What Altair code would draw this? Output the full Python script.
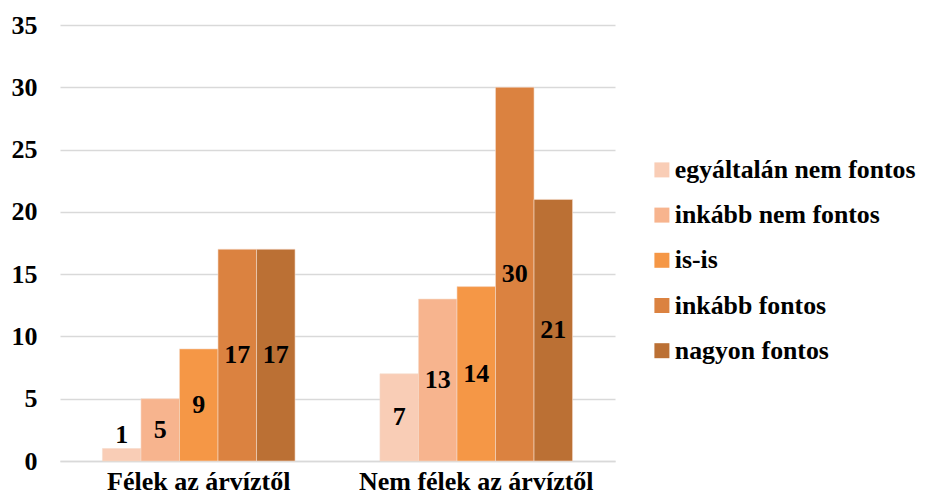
import altair as alt
import pandas as pd

categories = ["Félek az árvíztől", "Nem félek az árvíztől"]
series = ["egyáltalán nem fontos", "inkább nem fontos", "is-is", "inkább fontos", "nagyon fontos"]
values_felek = [1, 5, 9, 17, 17]
values_nem = [7, 13, 14, 30, 21]
colors = ["#F9CDB6", "#F7B48E", "#F59746", "#DB8240", "#BB7034"]
y_ticks = [0, 5, 10, 15, 20, 25, 30, 35]

rows = []
for cat, vals in zip(categories, [values_felek, values_nem]):
    for s, v in zip(series, vals):
        rows.append({"cat": cat, "series": s, "value": v})
df = pd.DataFrame(rows)

FONT = "Liberation Serif"

base = alt.Chart(df).transform_calculate(
    labelpos="datum.value < 2 ? datum.value + 1.1 : datum.value / 2"
).encode(
    x=alt.X("cat:N", sort=categories, title=None,
            scale=alt.Scale(paddingInner=0.306, paddingOuter=0.153),
            axis=alt.Axis(labelAngle=0, ticks=False, domain=True, domainColor="#D9D9D9",
                          domainWidth=1.5, labelFont=FONT, labelFontWeight="bold",
                          labelFontSize=26, labelPadding=28, labelBaseline="alphabetic",
                          labelColor="black", labelLimit=400)),
    xOffset=alt.XOffset("series:N", sort=series,
                        scale=alt.Scale(paddingInner=0, paddingOuter=0)),
)

bars = base.mark_bar(stroke="#F5DCCB", strokeWidth=0.6).encode(
    y=alt.Y("value:Q", title=None, scale=alt.Scale(domain=[0, 35], nice=False),
            axis=alt.Axis(values=y_ticks, domain=False, ticks=False, grid=True,
                          gridColor="#D9D9D9", gridWidth=1.5, labelFont=FONT,
                          labelFontWeight="bold", labelFontSize=26, labelPadding=23,
                          labelColor="black")),
    color=alt.Color("series:N", sort=series,
                    scale=alt.Scale(domain=series, range=colors),
                    legend=alt.Legend(title=None, orient="none", legendX=589, legendY=132,
                                      symbolType="square", symbolSize=225,
                                      symbolStrokeWidth=0, labelFont=FONT,
                                      labelFontWeight="bold", labelFontSize=25.8,
                                      labelColor="black", rowPadding=18.2, labelOffset=0,
                                      padding=0, labelLimit=400)),
)

labels = base.mark_text(font=FONT, fontWeight="bold", fontSize=26, color="black").encode(
    y=alt.Y("labelpos:Q"),
    text=alt.Text("value:Q"),
)

chart = alt.layer(bars, labels).properties(
    width=555, height=436,
    autosize=alt.AutoSizeParams(type="none"),
    padding={"left": 52, "top": 17, "right": 305, "bottom": 34},
).configure_view(stroke=None)

chart.save("out.html", embed_options={"renderer": "svg", "actions": False})
